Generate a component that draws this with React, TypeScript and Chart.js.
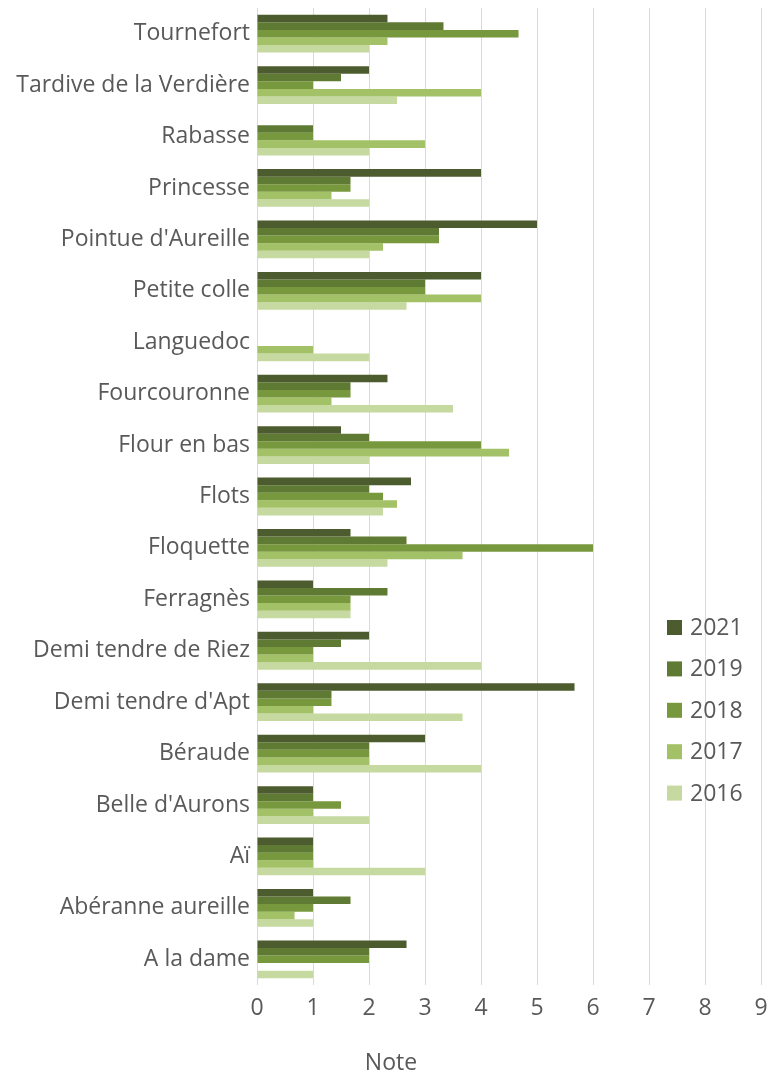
import React, { useEffect, useRef } from 'react';
import { Chart, registerables } from 'chart.js';

Chart.register(...registerables);

const categories = [
  'Tournefort',
  'Tardive de la Verdière',
  'Rabasse',
  'Princesse',
  "Pointue d'Aureille",
  'Petite colle',
  'Languedoc',
  'Fourcouronne',
  'Flour en bas',
  'Flots',
  'Floquette',
  'Ferragnès',
  'Demi tendre de Riez',
  "Demi tendre d'Apt",
  'Béraude',
  "Belle d'Aurons",
  'Aï',
  'Abéranne aureille',
  'A la dame',
];

const seriesLabels = ['2021', '2019', '2018', '2017', '2016'];

const s2021 = [2.33, 2, 0, 4, 5, 4, 0, 2.33, 1.5, 2.75, 1.67, 1, 2, 5.67, 3, 1, 1, 1, 2.67];
const s2019 = [3.33, 1.5, 1, 1.67, 3.25, 3, 0, 1.67, 2, 2, 2.67, 2.33, 1.5, 1.33, 2, 1, 1, 1.67, 2];
const s2018 = [4.67, 1, 1, 1.67, 3.25, 3, 0, 1.67, 4, 2.25, 6, 1.67, 1, 1.33, 2, 1.5, 1, 1, 2];
const s2017 = [2.33, 4, 3, 1.33, 2.25, 4, 1, 1.33, 4.5, 2.5, 3.67, 1.67, 1, 1, 2, 1, 1, 0.67, 0];
const s2016 = [2, 2.5, 2, 2, 2, 2.67, 2, 3.5, 2, 2.25, 2.33, 1.67, 4, 3.67, 4, 2, 3, 1, 1];

const xTicks = [0, 1, 2, 3, 4, 5, 6, 7, 8, 9];
const axisTitle = 'Note';

const colors = ['#4c5c2e', '#5f7b33', '#78983e', '#a3c267', '#c5d9a0'];

const FONT = '"Open Sans", sans-serif';
const TEXT = '#595959';
const FSIZE = 23;

const legendPlugin = {
  id: 'customLegend',
  afterDraw(chart: any) {
    const ctx = chart.ctx;
    ctx.save();
    ctx.font = `${FSIZE}px ${FONT}`;
    ctx.textBaseline = 'middle';
    ctx.textAlign = 'left';
    chart.data.datasets.forEach((ds: any, i: number) => {
      const cy = 627.5 + i * 41.4;
      ctx.fillStyle = ds.backgroundColor;
      ctx.fillRect(667, cy - 7.5, 15, 15);
      ctx.fillStyle = TEXT;
      ctx.fillText(ds.label, 690, cy + 1);
    });
    ctx.textAlign = 'center';
    ctx.fillText(axisTitle, 391, 1063);
    ctx.restore();
  },
};

export default function App() {
  const ref = useRef<HTMLCanvasElement>(null);
  useEffect(() => {
    const values = [s2021, s2019, s2018, s2017, s2016];
    const chart = new Chart(ref.current!, {
      type: 'bar',
      data: {
        labels: categories,
        datasets: seriesLabels.map((l, i) => ({
          label: l,
          data: values[i],
          backgroundColor: colors[i],
          borderWidth: 0,
          categoryPercentage: 0.735,
          barPercentage: 1,
        })),
      },
      options: {
        indexAxis: 'y',
        animation: false,
        responsive: false,
        maintainAspectRatio: false,
        layout: { padding: { top: 8, right: 11, bottom: 0, left: 0 } },
        plugins: { legend: { display: false }, tooltip: { enabled: false } },
        scales: {
          x: {
            min: 0,
            max: 9,
            afterBuildTicks: (s: any) => {
              s.ticks = xTicks.map((v) => ({ value: v }));
            },
            afterFit: (s: any) => {
              s.height = 89;
              s.paddingLeft = 0;
              s.paddingRight = 0;
            },
            grid: { color: '#d9d9d9', lineWidth: 1, drawTicks: false },
            border: { display: false },
            ticks: {
              color: TEXT,
              font: { family: FONT, size: FSIZE },
              padding: 10,
            },
          },
          y: {
            afterFit: (s: any) => {
              s.width = 257;
              s.paddingTop = 0;
              s.paddingBottom = 0;
            },
            grid: { display: false, drawTicks: false },
            border: { display: false },
            ticks: {
              color: TEXT,
              font: { family: FONT, size: FSIZE },
              padding: 7,
              autoSkip: false,
            },
          },
        },
      },
      plugins: [legendPlugin],
    });
    return () => chart.destroy();
  }, []);
  return (
    <div style={{ position: 'absolute', left: 0, top: 0, width: 772, height: 1074, background: '#fff' }}>
      <canvas ref={ref} width={772} height={1074} style={{ display: 'block' }} />
    </div>
  );
}
